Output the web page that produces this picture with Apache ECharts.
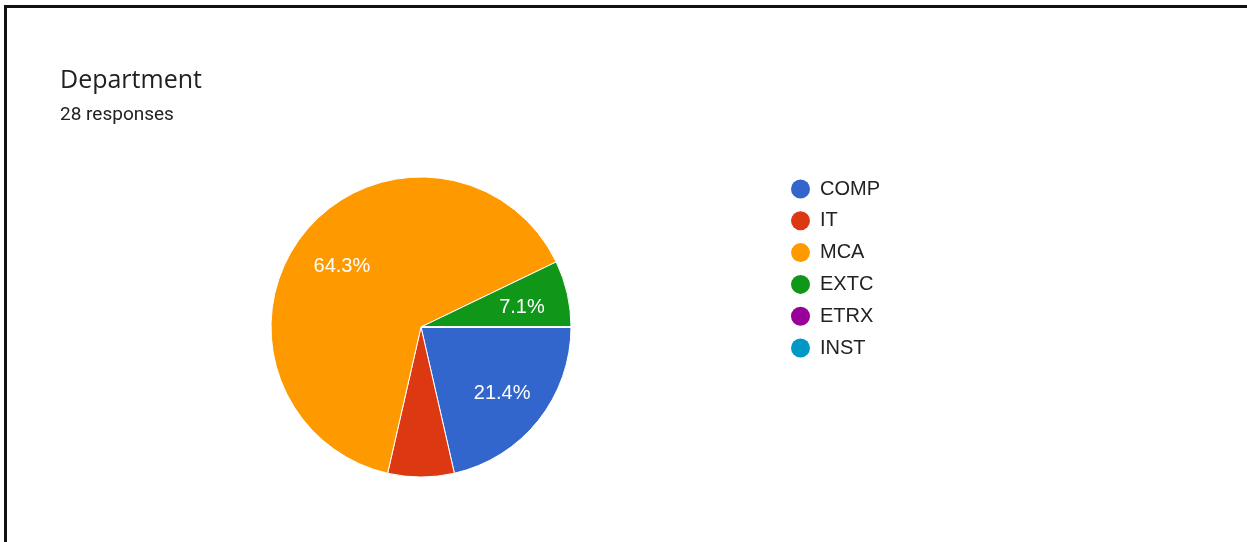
<!DOCTYPE html>
<html>
<head>
<meta charset="utf-8">
<script src="https://cdn.jsdelivr.net/npm/echarts@6/dist/echarts.min.js"></script>
<style>
	html,body{margin:0;padding:0;background:#fff;overflow:hidden;}
	#main{width:1247px;height:542px;position:absolute;left:0;top:0;}
	.frame{position:absolute;left:4px;top:5px;width:1300px;height:600px;border-left:3px solid #111;border-top:3px solid #111;pointer-events:none;}
</style>
</head>
<body>
<div id="main"></div>
<div class="frame"></div>
<script>
// 数据
var categories = ['COMP', 'IT', 'MCA', 'EXTC', 'ETRX', 'INST'];
var counts = [6, 2, 18, 2, 0, 0];
var colors = ['#3366cc', '#dc3912', '#ff9900', '#109618', '#990099', '#0099c6'];
var hiddenLabels = ['IT']; // 原图中IT扇区不显示百分比
var titleText = 'Department';
var subText = '28 responses';

;(function(){
	var pieData = [];
	var labelData = [];
	for(var i=0;i<categories.length;i++){
		pieData.push({name:categories[i], value:counts[i]});
		var o = {name:categories[i], value:counts[i]};
		if(hiddenLabels.indexOf(categories[i]) > -1){
			o.label = {show:false};
		}
		labelData.push(o);
	}
	var center = [421, 327];
	var myChart = echarts.init(document.getElementById('main'));
	var option = {
		animation: false,
		color: colors,
		title: [{
			text: titleText,
			left: 55,
			top: 63,
			textStyle: {fontFamily: 'Open Sans', fontSize: 25, fontWeight: 'normal', color: '#202124'}
		},{
			text: subText,
			left: 55,
			top: 101,
			textStyle: {fontFamily: 'Roboto', fontSize: 19, fontWeight: 'normal', color: '#202124'}
		}],
		legend: {
			orient: 'vertical',
			left: 786,
			top: 174,
			icon: 'circle',
			itemWidth: 29,
			itemHeight: 19,
			itemGap: 11.8,
			itemStyle: {borderWidth: 0},
			textStyle: {fontFamily: 'Liberation Sans', fontSize: 20, color: '#222'},
			data: categories
		},
		series: [{
			// 饼图本体
			type: 'pie',
			center: center,
			radius: [0, 150],
			startAngle: 0,
			clockwise: true,
			silent: true,
			label: {show: false},
			labelLine: {show: false},
			itemStyle: {borderColor: '#fff', borderWidth: 1},
			data: pieData
		},{
			// 标签层(透明)
			type: 'pie',
			center: center,
			radius: [0, 199],
			startAngle: 0,
			clockwise: true,
			silent: true,
			legendHoverLink: false,
			itemStyle: {color: 'rgba(0,0,0,0)', borderWidth: 0},
			labelLine: {show: false},
			label: {
				show: true,
				position: 'inside',
				offset: [1, 3],
				fontFamily: 'Liberation Sans',
				fontSize: 20,
				color: '#fff',
				formatter: function(p){
					return p.value > 0 ? p.percent.toFixed(1) + '%' : '';
				}
			},
			data: labelData
		}]
	};
	myChart.setOption(option);
})();
</script>
</body>
</html>
